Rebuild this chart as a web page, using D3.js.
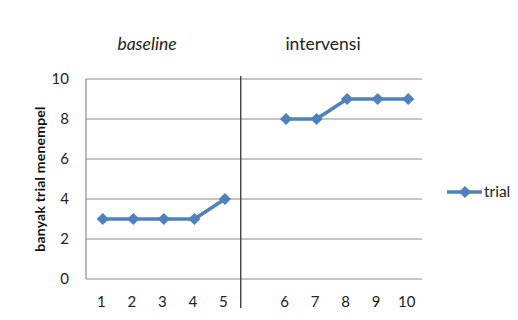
<!DOCTYPE html>
<html>
<head>
<meta charset="utf-8">
<script src="https://cdn.jsdelivr.net/npm/d3@7"></script>
<style>
  html, body { margin: 0; padding: 0; background: #fff; }
  svg { display: block; font-family: Lato, "Open Sans", sans-serif; }
</style>
</head>
<body>
<svg id="chart" width="518" height="320"></svg>
<script>
// Sessions: five baseline sessions, one empty slot, five intervention sessions
const categories = ["1", "2", "3", "4", "5", "", "6", "7", "8", "9", "10"];
const trialValues = [3, 3, 3, 3, 4, null, 8, 8, 9, 9, 9];
const yTicks = [0, 2, 4, 6, 8, 10];
const phaseLabels = ["baseline", "intervensi"];
const seriesName = "trial";
const yTitle = "banyak trial menempel";

const svg = d3.select("#chart");
const margin = { left: 86, right: 96, top: 79, bottom: 41 };
const W = 518, H = 320;
const innerW = W - margin.left - margin.right;
const innerH = H - margin.top - margin.bottom;

const x = d3.scaleBand().domain(categories.map((c, i) => i)).range([margin.left, margin.left + innerW]).paddingInner(0).paddingOuter(0);
const y = d3.scaleLinear().domain([0, 10]).range([margin.top + innerH, margin.top]);
const cx = i => x(i) + x.bandwidth() / 2;

const blue = "#4F81BD";
const grid = "#8c8c8c";

// horizontal gridlines
svg.append("g").selectAll("line").data(yTicks).join("line")
  .attr("x1", margin.left).attr("x2", margin.left + innerW)
  .attr("y1", d => y(d)).attr("y2", d => y(d))
  .attr("stroke", grid).attr("stroke-width", 1.2);

// left axis line
svg.append("line")
  .attr("x1", margin.left).attr("x2", margin.left)
  .attr("y1", y(10)).attr("y2", y(0))
  .attr("stroke", grid).attr("stroke-width", 1.2);

// y tick labels
const yAxis = d3.axisLeft(y).tickValues(yTicks).tickSize(0).tickPadding(17);
const yg = svg.append("g").attr("transform", `translate(${margin.left},0)`).call(yAxis);
yg.select(".domain").remove();
yg.selectAll("text").attr("font-size", 15).attr("fill", "#222").attr("font-family", "Lato, sans-serif");

// x tick labels
const xAxis = d3.axisBottom(x).tickFormat(i => categories[i]).tickSize(0).tickPadding(17);
const xg = svg.append("g").attr("transform", `translate(0,${y(0)})`).call(xAxis);
xg.select(".domain").remove();
xg.selectAll("text").attr("font-size", 15).attr("fill", "#222").attr("font-family", "Lato, sans-serif");

// phase separator between session 5 and the gap
const sepX = x(5) + 2;
svg.append("line")
  .attr("x1", sepX).attr("x2", sepX)
  .attr("y1", y(10) - 3).attr("y2", 308)
  .attr("stroke", "#333").attr("stroke-width", 1.3);

// phase labels
svg.append("text").attr("x", 147).attr("y", 50).attr("text-anchor", "middle")
  .attr("font-size", 17.5).attr("font-style", "italic").attr("fill", "#222").text(phaseLabels[0]);
svg.append("text").attr("x", 323).attr("y", 50).attr("text-anchor", "middle")
  .attr("font-size", 17.5).attr("fill", "#222").text(phaseLabels[1]);

// y-axis title
svg.append("text")
  .attr("transform", `translate(45,${(y(0) + y(10)) / 2}) rotate(-90)`)
  .attr("text-anchor", "middle").attr("font-size", 14).attr("font-weight", "bold")
  .attr("letter-spacing", 0.2)
  .attr("fill", "#111").text(yTitle);

// data line, broken across the empty slot
const line = d3.line()
  .defined(d => d.v != null)
  .x(d => cx(d.i) + 1.5).y(d => y(d.v));
const pts = trialValues.map((v, i) => ({ i, v }));
svg.append("path").datum(pts).attr("d", line)
  .attr("fill", "none").attr("stroke", blue).attr("stroke-width", 3.5).attr("stroke-linejoin", "round");

const diamond = d3.symbol().type(d3.symbolDiamond2).size(95);
svg.append("g").selectAll("path").data(pts.filter(d => d.v != null)).join("path")
  .attr("d", diamond)
  .attr("transform", d => `translate(${cx(d.i) + 1.5},${y(d.v)})`)
  .attr("fill", blue);

// legend
const lg = svg.append("g").attr("transform", "translate(447,192)");
lg.append("line").attr("x1", 0).attr("x2", 35).attr("stroke", blue).attr("stroke-width", 3.5);
lg.append("path").attr("d", diamond).attr("transform", "translate(18,0)").attr("fill", blue);
lg.append("text").attr("x", 37).attr("y", 5).attr("font-size", 15.5).attr("fill", "#222").text(seriesName);
</script>
</body>
</html>
